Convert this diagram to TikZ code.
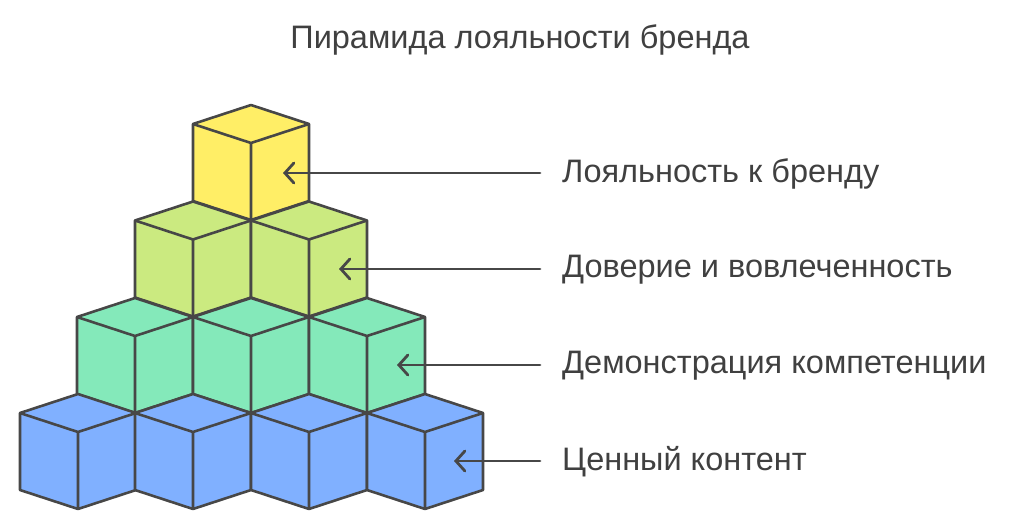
\documentclass[tikz,border=0pt]{standalone}
\usepackage{fontspec}
\setmainfont{Liberation Sans}
\usetikzlibrary{arrows.meta}
\begin{document}
\begin{tikzpicture}[x=1pt,y=-1pt,
  edge/.style={draw=black!72,line width=2.6pt,line join=round},
  arr/.style={draw=black!72,line width=2.8pt,-{Straight Barb[length=9pt,width=20pt,line cap=round]},line cap=round},
  lbl/.style={anchor=west,text=black!75,font=\fontsize{32.5}{36}\selectfont,inner sep=0pt}]
\useasboundingbox (0,0) rectangle (1020,530);
\newcommand\cube[3]{%
  \fill[fill=#3] (#1,#2)--++(58,19)--++(-58,19)--++(-58,-19)--cycle;
  \fill[fill=#3] (#1-58,#2+19)--(#1,#2+38)--(#1,#2+115)--(#1-58,#2+96)--cycle;
  \fill[fill=#3] (#1+58,#2+19)--(#1,#2+38)--(#1,#2+115)--(#1+58,#2+96)--cycle;
  \draw[edge] (#1,#2)--(#1+58,#2+19)--(#1+58,#2+96)--(#1,#2+115)--(#1-58,#2+96)--(#1-58,#2+19)--cycle;
  \draw[edge] (#1-58,#2+19)--(#1,#2+38)--(#1+58,#2+19) (#1,#2+38)--(#1,#2+115);}
\definecolor{cy}{HTML}{FFEE66}\definecolor{cg}{HTML}{CBEA80}
\definecolor{cmint}{HTML}{84E9BA}\definecolor{cb}{HTML}{80B0FF}
\cube{251}{105}{cy}
\cube{193}{201.5}{cg}\cube{309}{201.5}{cg}
\cube{135}{298}{cmint}\cube{251}{298}{cmint}\cube{367}{298}{cmint}
\cube{78}{394}{cb}\cube{193}{394}{cb}\cube{309}{394}{cb}\cube{425}{394}{cb}
\node[text=black!75,font=\fontsize{32.5}{36}\selectfont,inner sep=0pt] (title) at (520,40) {Пирамида лояльности бренда};
\node[lbl] (l1) at (562,174) {Лояльность к бренду};
\node[lbl] (l2) at (562,270) {Доверие и вовлеченность};
\node[lbl] (l3) at (562,366) {Демонстрация компетенции};
\node[lbl] (l4) at (562,462) {Ценный контент};
\coordinate (t1) at (283,173);\coordinate (t2) at (339,269);
\coordinate (t3) at (397,365);\coordinate (t4) at (454,461);
\draw[arr] ([xshift=-22pt,yshift=1pt]l1.west)--(t1);
\draw[arr] ([xshift=-22pt,yshift=1pt]l2.west)--(t2);
\draw[arr] ([xshift=-22pt,yshift=1pt]l3.west)--(t3);
\draw[arr] ([xshift=-22pt,yshift=1pt]l4.west)--(t4);
\end{tikzpicture}
\end{document}
